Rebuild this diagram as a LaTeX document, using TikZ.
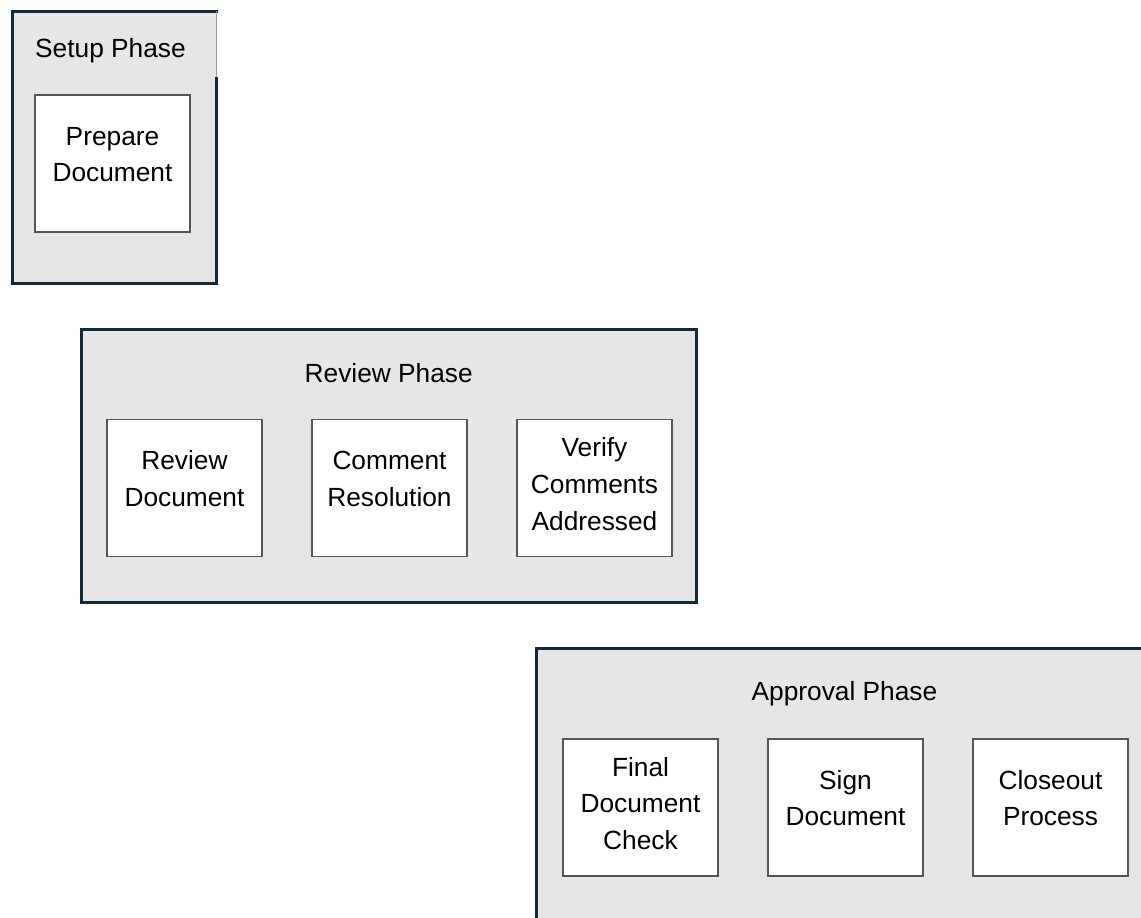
\documentclass[tikz,border=0pt]{standalone}
\usepackage{fontspec}
\setmainfont{Liberation Sans}
\usetikzlibrary{calc}
\definecolor{frame}{HTML}{102A3C}
\definecolor{panel}{HTML}{E6E6E6}
\definecolor{edge}{HTML}{555555}
\definecolor{seam}{HTML}{9A9A9A}
% centred stack of lines whose baseline is that of the first line
\newcommand\stackedlines[1]{\begin{tabular}[t]{@{}c@{}}#1\end{tabular}}
\begin{document}
\begin{tikzpicture}[x=1pt,y=-1pt,
  phase/.style={draw=frame, line width=3pt, fill=panel, minimum width=615.5pt,
    minimum height=272.5pt, inner sep=0pt, outer sep=0pt},
  stepbox/.style={draw=edge, line width=1.5pt, fill=white, minimum width=155pt,
    minimum height=137pt, inner sep=0pt},
  title/.style={anchor=base, inner sep=0pt, font=\fontsize{26.3}{30}\selectfont},
  lbl/.style={anchor=base, inner sep=0pt, font=\fontsize{26.3}{36.7}\selectfont}]
\useasboundingbox (0,0) rectangle (1141,918);
\clip (0,0) rectangle (1141,918);

% ---- Setup phase ----
\node[phase, draw=none, minimum width=204pt, minimum height=272pt] (setup) at (114.5,147) {};
\draw[frame, line width=3pt] ($(setup.north east)+(0,66)$) -- (setup.south east)
  -- (setup.south west) -- (setup.north west) -- ([xshift=1.5pt]setup.north east);
\draw[seam, line width=1.5pt] (setup.north east) -- ($(setup.north east)+(0,66)$);
\node[title] (setup-t) at (110.5,57) {Setup Phase};
\node[stepbox] (prep) at (112.5,163.5) {};
\node[lbl] (prep-t) at ($(prep.center)+(0,-18.3)$) {\stackedlines{Prepare\\Document}};

% ---- Review phase ----
\node[phase] (review) at (388.75,465.75) {};
\node[title] (review-t) at (388.75,382) {Review Phase};
\node[stepbox] (rev) at (184.5,488) {};
\node[stepbox] (cmt) at (389.5,488) {};
\node[stepbox] (ver) at (594.5,488) {};
\node[lbl] (rev-t) at ($(rev.center)+(0,-18.3)$) {\stackedlines{Review\\Document}};
\node[lbl] (cmt-t) at ($(cmt.center)+(0,-18.3)$) {\stackedlines{Comment\\Resolution}};
\node[lbl] (ver-t) at ($(ver.center)+(0,-31.3)$) {\stackedlines{Verify\\Comments\\Addressed}};

% ---- Approval phase ----
\node[phase] (approval) at (844.45,784.55) {};
\node[title] (approval-t) at (844.45,700) {Approval Phase};
\node[stepbox] (fin) at (640.5,807.5) {};
\node[stepbox] (sgn) at (845.5,807.5) {};
\node[stepbox] (cls) at (1050.5,807.5) {};
\node[lbl] (fin-t) at ($(fin.center)+(0,-31.3)$) {\stackedlines{Final\\Document\\Check}};
\node[lbl] (sgn-t) at ($(sgn.center)+(0,-18.3)$) {\stackedlines{Sign\\Document}};
\node[lbl] (cls-t) at ($(cls.center)+(0,-18.3)$) {\stackedlines{Closeout\\Process}};
\end{tikzpicture}
\end{document}
